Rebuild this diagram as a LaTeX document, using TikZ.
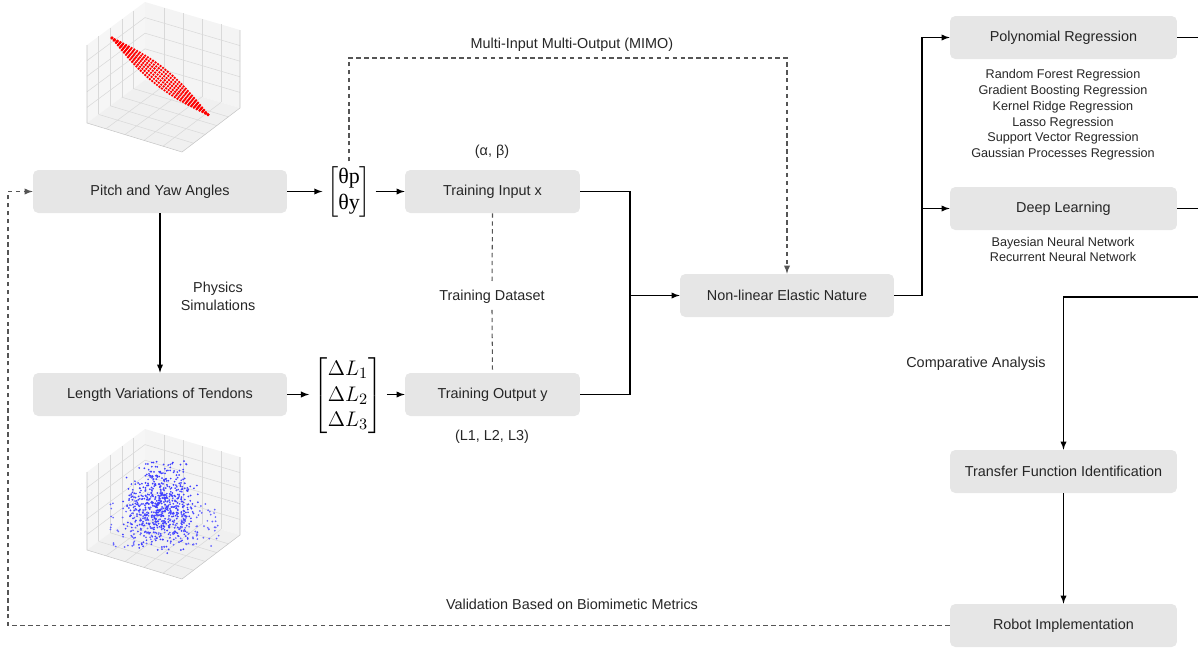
\documentclass[tikz,border=0pt]{standalone}
\usepackage{amsmath}
\usepackage{fontspec}
\setmainfont{Liberation Sans}
\newfontfamily\grserif{Liberation Serif}
\usepackage{xcolor}
\usetikzlibrary{shapes,arrows,calc}

\definecolor{boxgray}{HTML}{E6E6E6}
\definecolor{txtgray}{HTML}{262626}
\definecolor{dashgray}{HTML}{555555}

\tikzset{
	block/.style={fill=boxgray,rounded corners=3pt,minimum height=0.86cm,text=txtgray,font=\fontsize{8.2}{10}\selectfont},
	lbl/.style={text=txtgray,font=\fontsize{8.2}{10.2}\selectfont,align=center},
	listtxt/.style={text=txtgray,font=\fontsize{7.2}{9}\selectfont,align=center},
	mat/.style={inner sep=2.5pt,font=\fontsize{12.5}{14.5}\selectfont},
	line/.style={draw=black,line width=0.6pt},
	conn/.style={draw=black,line width=0.6pt,-latex},
	dashline/.style={draw=dashgray,line width=0.6pt,dash pattern=on 2.5pt off 2pt},
	dashconn/.style={draw=dashgray,line width=0.6pt,dash pattern=on 2.5pt off 2pt,-latex},
}

% 3d axes of the small plots
\newcommand{\axesbox}[1]{%
	\begin{scope}[shift={(0,#1)},line width=0.3pt]
		\fill[gray!7] (87,123) -- (145,80) -- (145,2) -- (87,45) -- cycle;		% left pane
		\fill[gray!9] (145,80) -- (240,108) -- (240,30) -- (145,2) -- cycle;	% right pane
		\fill[gray!12] (87,123) -- (182,152) -- (240,108) -- (145,80) -- cycle;	% floor
		\foreach \t in {0.2,0.4,0.6,0.8}{
			\draw[gray!30] ($(87,123)!\t!(145,80)$) -- ++(0,-78);
			\draw[gray!30] ($(87,123)!\t!(87,45)$) -- ($(145,80)!\t!(145,2)$);
			\draw[gray!30] ($(145,80)!\t!(240,108)$) -- ++(0,-78);
			\draw[gray!30] ($(145,80)!\t!(145,2)$) -- ($(240,108)!\t!(240,30)$);
			\draw[gray!30] ($(87,123)!\t!(145,80)$) -- ($(182,152)!\t!(240,108)$);
			\draw[gray!30] ($(87,123)!\t!(182,152)$) -- ($(145,80)!\t!(240,108)$);
		}
		\draw[gray!45] (87,45) -- (87,123) -- (182,152) -- (240,108) -- (240,30);
	\end{scope}}

\begin{document}
\begin{tikzpicture}[x=0.02cm,y=-0.02cm]
	\useasboundingbox (0,0) rectangle (1198,647);

	% plots
	\axesbox{0}
	\foreach \u in {0,...,40}{
		\foreach \v in {-3,...,3}{
			\fill[red] ({112+\u*2.4+\v*1.8*sin(\u*4.5)},{38+\u*1.92-\v*2.2*sin(\u*4.5)}) circle (0.75pt);
		}
	}
	\axesbox{427}
	\pgfmathsetseed{12}
	\foreach \i in {1,...,650}{
		\fill[blue!75] ({160+20*(rand+rand)},{506+24*(rand+rand)}) circle (0.55pt);
	}
	\foreach \i in {1,...,140}{
		\fill[blue!60] ({165+55*rand},{525+22*rand}) circle (0.55pt);
	}

	% boxes
	\node[block,minimum width=5.08cm] (pitch) at (160,191.5) {Pitch and Yaw Angles};
	\node[block,minimum width=5.08cm] (length) at (160,394.5) {Length Variations of Tendons};
	\node[mat] (thmat) at (349,191.5) {$\begin{bmatrix}\mbox{\grserif θp}\\ \mbox{\grserif θy}\end{bmatrix}$};
	\node[mat] (dlmat) at (348,396) {$\begin{bmatrix}\Delta L_1\\ \Delta L_2\\ \Delta L_3\end{bmatrix}$};
	\node[block,minimum width=3.5cm] (tin) at (492.5,191.5) {Training Input x};
	\node[block,minimum width=3.5cm] (tout) at (492.5,394.5) {Training Output y};
	\node[block,minimum width=4.28cm] (nonlin) at (787,295.5) {Non-linear Elastic Nature};
	\node[block,minimum width=4.54cm] (poly) at (1063.5,37.5) {Polynomial Regression};
	\node[block,minimum width=4.54cm] (deep) at (1063.5,208.5) {Deep Learning};
	\node[block,minimum width=4.54cm] (tfid) at (1063.5,471.5) {Transfer Function Identification};
	\node[block,minimum width=4.54cm] (robot) at (1063.5,625.5) {Robot Implementation};

	% labels
	\node[lbl] (mimo) at (572,45) {Multi-Input Multi-Output (MIMO)};
	\node[lbl] (ab) at (492,152) {(α, β)};
	\node[lbl] (phys) at (218,296) {Physics\\Simulations};
	\node[lbl] (tds) at (492,297) {Training Dataset};
	\node[lbl] (lll) at (492,437) {(L1, L2, L3)};
	\node[lbl] (comp) at (976,364) {Comparative Analysis};
	\node[lbl] (valid) at (572,604) {Validation Based on Biomimetic Metrics};
	\node[listtxt] (reglist) at (1063,115) {Random Forest Regression\\Gradient Boosting Regression\\Kernel Ridge Regression\\Lasso Regression\\Support Vector Regression\\Gaussian Processes Regression};
	\node[listtxt] (dllist) at (1063,249.5) {Bayesian Neural Network\\Recurrent Neural Network};

	% corners of the connectors
	\coordinate (jin) at (630,295.5);
	\coordinate (jout) at (922,295.5);
	\coordinate (mimoL) at (349,58);
	\coordinate (mimoR) at (787,58);
	\coordinate (polyE) at (1198,37.5);
	\coordinate (deepE) at (1198,208.5);
	\coordinate (compE) at (1198,297);
	\coordinate (compC) at (1063.5,297);
	\coordinate (fbC) at (8,625.5);

	% connectors
	\draw[conn] (pitch.east) -- (thmat.west);
	\draw[conn] (thmat.east) -- (tin.west);
	\draw[conn] (pitch.south) -- (length.north);
	\draw[conn] (length.east) -- (length.east -| dlmat.west);
	\draw[conn] (tout.west -| dlmat.east) -- (tout.west);
	\draw[line] (tin.east) -| (jin);
	\draw[line] (tout.east) -| (jin);
	\draw[conn] (jin) -- (nonlin.west);
	\draw[dashconn] (thmat.north) -- (mimoL) -- (mimoR) -- (nonlin.north);
	\draw[dashline] (tin.south) -- (tds.north);
	\draw[dashline] (tds.south) -- (tout.north);
	\draw[conn] (nonlin.east) -- (jout) |- (poly.west);
	\draw[conn] (jout) |- (deep.west);
	\draw[line] (poly.east) -- (polyE);
	\draw[line] (deep.east) -- (deepE);
	\draw[conn] (compE) -- (compC) -- (tfid.north);
	\draw[conn] (tfid.south) -- (robot.north);
	\draw[dashconn] (robot.west) -- (fbC) |- (pitch.west);
\end{tikzpicture}
\end{document}
